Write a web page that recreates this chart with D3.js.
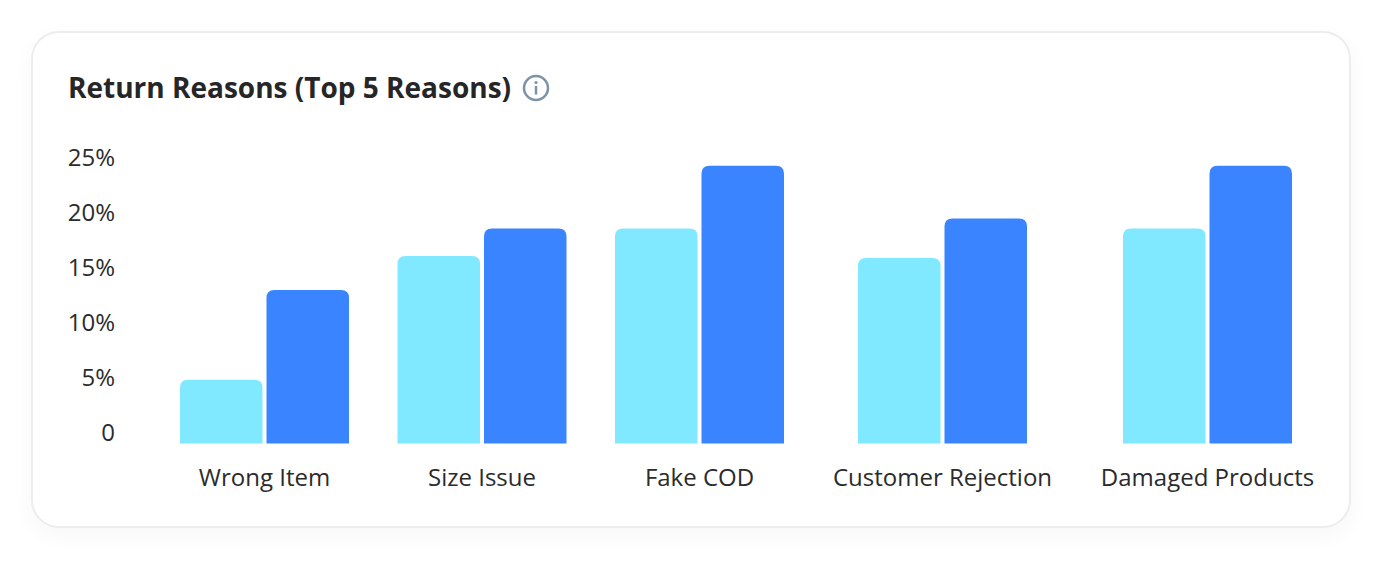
<!DOCTYPE html>
<html lang="en">
<head>
  <meta charset="UTF-8" />
  <title>Return Reasons</title>
  <script src="https://d3js.org/d3.v7.min.js"></script>
  <style>
    body {
      margin: 0;
      background-color: #fff;
      overflow: hidden;
    }

    #card {
      position: absolute;
      left: 31px;
      top: 31px;
      width: 1316px;
      height: 493px;
      background-color: #fff;
      border: 2px solid #ededed;
      border-radius: 28px;
      box-shadow: 0 8px 24px rgba(0, 0, 0, 0.035);
    }

    svg {
      position: absolute;
      left: 0;
      top: 0;
      font-family: "Open Sans", sans-serif;
    }

    .axis-label {
      font-size: 24px;
      fill: #2b2b2b;
    }

    .title {
      font-size: 28px;
      font-weight: 700;
      fill: #262626;
    }
  </style>
</head>
<body>
  <div id="card"></div>
  <svg width="1392" height="570"></svg>

  <script>
    const categories = ["Wrong Item", "Size Issue", "Fake COD", "Customer Rejection", "Damaged Products"];
    const seriesLight = [4.85, 16.1, 18.6, 15.9, 18.6];
    const seriesDark = [13, 18.6, 24.3, 19.5, 24.3];
    const tickValues = [0, 5, 10, 15, 20, 25];

    const svg = d3.select("svg");

    // groups are not evenly spaced in the original
    const x = d3.scaleOrdinal()
      .domain(categories)
      .range([264.5, 482, 699.5, 942.5, 1207.5]);

    const y = d3.scaleLinear().domain([0, 25]).range([433, 158]);

    const baseline = 443.5;
    const barWidth = 82.5;
    const barGap = 4;
    const radius = 8;

    function barPath(x0, top) {
      return `M${x0},${baseline}V${top + radius}Q${x0},${top} ${x0 + radius},${top}` +
        `H${x0 + barWidth - radius}Q${x0 + barWidth},${top} ${x0 + barWidth},${top + radius}V${baseline}Z`;
    }

    svg.append("text")
      .attr("class", "title")
      .attr("x", 68)
      .attr("y", 98)
      .text("Return Reasons (Top 5 Reasons)");

    // info icon
    const info = svg.append("g").attr("transform", "translate(536,88)");
    info.append("circle").attr("r", 12).attr("fill", "none").attr("stroke", "#7b93a8").attr("stroke-width", 2.5);
    info.append("circle").attr("cy", -5.5).attr("r", 1.6).attr("fill", "#7b93a8");
    info.append("rect").attr("x", -1.25).attr("y", -2).attr("width", 2.5).attr("height", 8.5).attr("fill", "#7b93a8");

    svg.append("g").selectAll("text")
      .data(tickValues)
      .enter().append("text")
      .attr("class", "axis-label")
      .attr("x", 115)
      .attr("y", d => y(d))
      .attr("dy", "0.32em")
      .attr("text-anchor", "end")
      .text(d => d === 0 ? "0" : d + "%");

    svg.append("g").selectAll("path")
      .data(categories)
      .enter().append("path")
      .attr("d", (d, i) => barPath(x(d) - barGap / 2 - barWidth, y(seriesLight[i])))
      .attr("fill", "#80e9ff");

    svg.append("g").selectAll("path")
      .data(categories)
      .enter().append("path")
      .attr("d", (d, i) => barPath(x(d) + barGap / 2, y(seriesDark[i])))
      .attr("fill", "#3a84ff");

    svg.append("g").selectAll("text")
      .data(categories)
      .enter().append("text")
      .attr("class", "axis-label")
      .attr("x", d => x(d))
      .attr("y", 486)
      .attr("text-anchor", "middle")
      .text(d => d);
  </script>
</body>
</html>
